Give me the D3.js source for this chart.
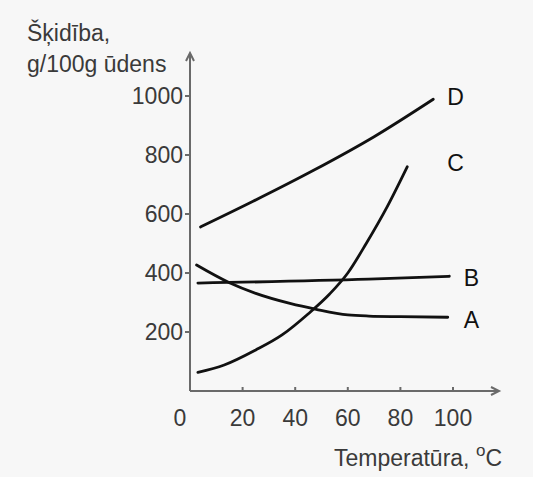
<!DOCTYPE html>
<html>
<head>
<meta charset="utf-8">
<script src="https://cdn.jsdelivr.net/npm/d3@7"></script>
<style>
  body { margin: 0; background: #f7f7f7; }
  svg { display: block; font-family: "Liberation Sans", Arial, sans-serif; }
  .lbl { fill: #3a3a3a; font-size: 23px; }
  .curve { fill: none; stroke: #111; stroke-width: 2.8px; stroke-linecap: round; }
  .ax { stroke: #6a6a6a; stroke-width: 2px; fill: none; }
</style>
</head>
<body>
<svg class="chart" width="533" height="477"></svg>
<script>
// temperature (°C) and solubility (g/100g water)
var tempA = [2.5, 15, 25, 38, 48, 60, 68, 80, 98];
var valA  = [427, 367, 331, 297, 277, 258, 254, 252, 250];
var tempB = [3, 68, 98.6];
var valB  = [366, 379, 389];
var tempC = [3, 13, 25, 35, 45, 53, 60, 67, 75, 82.6];
var valC  = [63, 88, 139, 190, 262, 328, 400, 500, 625, 760];
var tempD = [4, 24, 47, 70, 92.5];
var valD  = [556, 643, 748, 862, 989];

var xTicks = [0, 20, 40, 60, 80, 100];
var yTicks = [200, 400, 600, 800, 1000];

// where the curve letters sit, in data units
var seriesNames = ["A", "B", "C", "D"];
var labelTemp = [107, 107, 101, 101];
var labelVal  = [241, 383, 773, 997];

(function() {
  var svg = d3.select(".chart");

  var x = d3.scaleLinear().domain([0, 100]).range([190, 453]);
  var y = d3.scaleLinear().domain([0, 1000]).range([391, 96]);

  // axes with arrow heads
  svg.append("line").attr("class", "ax")
    .attr("x1", x(0)).attr("y1", y(0)).attr("x2", x(0)).attr("y2", 53);
  svg.append("path").attr("class", "ax")
    .attr("d", "M" + (x(0) - 4) + ",61L" + x(0) + ",53L" + (x(0) + 4) + ",61");
  svg.append("line").attr("class", "ax")
    .attr("x1", x(0)).attr("y1", y(0)).attr("x2", 499).attr("y2", y(0));
  svg.append("path").attr("class", "ax")
    .attr("d", "M491," + (y(0) - 4) + "L499," + y(0) + "L491," + (y(0) + 4));

  // x ticks + labels
  var xAxis = svg.append("g");
  xAxis.selectAll("line")
    .data(xTicks.slice(1))
    .enter().append("line")
    .attr("class", "ax")
    .attr("x1", function(d) { return x(d); })
    .attr("x2", function(d) { return x(d); })
    .attr("y1", y(0) - 4).attr("y2", y(0) + 1);
  xAxis.selectAll("text")
    .data(xTicks)
    .enter().append("text")
    .attr("class", "lbl")
    .attr("text-anchor", "middle")
    .attr("x", function(d) { return d === 0 ? x(d) - 10 : x(d); })
    .attr("y", 426)
    .text(function(d) { return d; });

  // y ticks + labels
  var yAxis = svg.append("g");
  yAxis.selectAll("line")
    .data(yTicks)
    .enter().append("line")
    .attr("class", "ax")
    .attr("x1", x(0) - 5).attr("x2", x(0))
    .attr("y1", function(d) { return y(d); })
    .attr("y2", function(d) { return y(d); });
  yAxis.selectAll("text")
    .data(yTicks)
    .enter().append("text")
    .attr("class", "lbl")
    .attr("text-anchor", "end")
    .attr("x", x(0) - 7)
    .attr("y", function(d) { return y(d) + 8; })
    .text(function(d) { return d; });

  // axis titles
  var yTitle = svg.append("text").attr("class", "lbl");
  yTitle.append("tspan").attr("x", 27).attr("y", 41).text("Šķidība,");
  yTitle.append("tspan").attr("x", 27).attr("y", 72).text("g/100g ūdens");

  var xTitle = svg.append("text").attr("class", "lbl").attr("x", 334).attr("y", 466);
  xTitle.append("tspan").text("Temperatūra, ");
  xTitle.append("tspan").attr("dy", -10).style("font-size", "17px").text("o");
  xTitle.append("tspan").attr("dy", 10).text("C");

  // curves
  var line = d3.line()
    .x(function(d) { return x(d[0]); })
    .y(function(d) { return y(d[1]); })
    .curve(d3.curveMonotoneX);

  var series = [
    d3.zip(tempA, valA),
    d3.zip(tempB, valB),
    d3.zip(tempC, valC),
    d3.zip(tempD, valD)
  ];

  svg.selectAll(".curve")
    .data(series)
    .enter().append("path")
    .attr("class", "curve")
    .attr("d", line);

  svg.selectAll(".name")
    .data(seriesNames)
    .enter().append("text")
    .attr("class", "lbl name")
    .attr("text-anchor", "middle")
    .style("fill", "#111")
    .attr("x", function(d, i) { return x(labelTemp[i]); })
    .attr("y", function(d, i) { return y(labelVal[i]) + 8; })
    .text(function(d) { return d; });
})();
</script>
</body>
</html>
